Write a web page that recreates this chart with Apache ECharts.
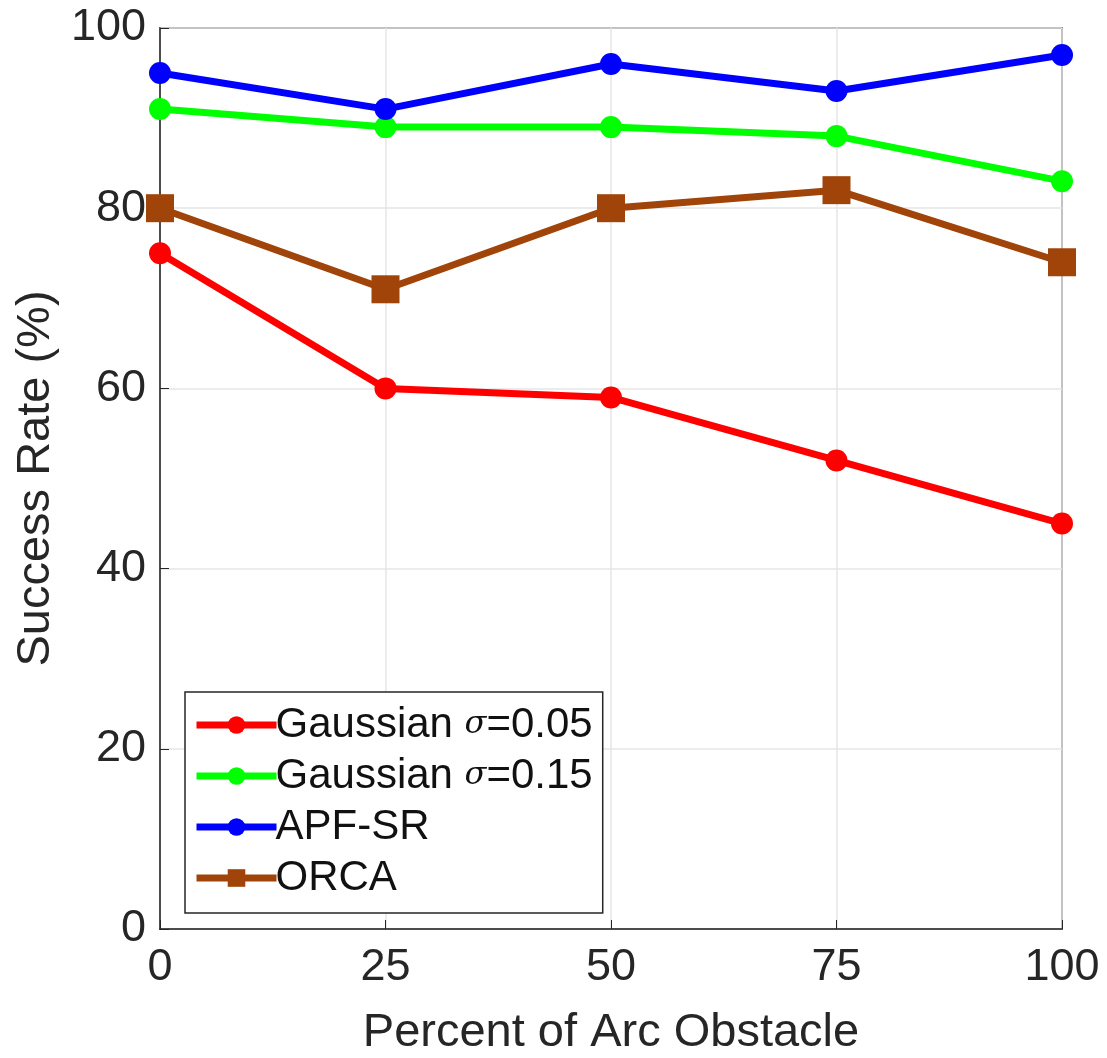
<!DOCTYPE html>
<html>
<head>
<meta charset="utf-8">
<script src="https://cdn.jsdelivr.net/npm/echarts@6/dist/echarts.min.js"></script>
<style>
  html, body { margin: 0; padding: 0; background: #fff; }
  #chart-container { width: 1107px; height: 1058px; }
</style>
</head>
<body>
<div id="chart-container"></div>
<script>
var dom = document.getElementById('chart-container');
var myChart = echarts.init(dom, null, { renderer: 'canvas' });

// percent of arc obstacle
const categories = [0, 25, 50, 75, 100];
const gauss005 = [75, 60, 59, 52, 45];
const gauss015 = [91, 89, 89, 88, 83];
const apfSr = [95, 91, 96, 93, 97];
const orca = [80, 71, 80, 82, 74];
const yTicks = [0, 20, 40, 60, 80, 100];

const font = 'Liberation Sans, Arial, sans-serif';

function mkSeries(name, data, color, symbol, size) {
    return {
        name: name,
        type: 'line',
        data: categories.map((c, i) => [c, data[i]]),
        symbol: symbol,
        symbolSize: size,
        lineStyle: { color: color, width: 7 },
        itemStyle: { color: color },
        z: 3
    };
}

var option = {
    animation: false,
    backgroundColor: '#fff',
    grid: {
        left: 160, right: 45, top: 28, bottom: 129,
        show: true, borderColor: '#262626', borderWidth: 1.5,
        containLabel: false,
        outerBoundsMode: 'none'
    },
    legend: {
        orient: 'vertical',
        left: 185, top: 692,
        padding: [12, 10, 14, 8],
        backgroundColor: '#fff',
        borderColor: '#262626',
        borderWidth: 1.5,
        itemWidth: 80, itemHeight: 22,
        itemGap: 9,
        lineStyle: { width: 7 },
        textStyle: {
            fontFamily: font, fontSize: 42, color: '#111',
            padding: [0, 0, 0, -6],
            rich: {
                i: { fontFamily: 'DejaVu Serif, serif', fontStyle: 'italic', fontSize: 32, color: '#111' }
            }
        },
        formatter: function (name) {
            var p = name.split('σ');
            if (p.length === 1) return name;
            return p[0] + '{i|σ}' + p[1];
        },
        data: ['Gaussian σ=0.05', 'Gaussian σ=0.15', 'APF-SR', 'ORCA']
    },
    xAxis: {
        type: 'value',
        min: 0, max: 100, interval: 25,
        name: 'Percent of Arc Obstacle',
        nameLocation: 'middle',
        nameGap: 81,
        nameTextStyle: { fontFamily: font, fontSize: 47, color: '#262626' },
        axisLine: { show: true, lineStyle: { color: '#262626', width: 1.5 } },
        axisTick: { show: true, inside: true, length: 9, lineStyle: { color: '#262626' } },
        axisLabel: { fontFamily: font, fontSize: 45, color: '#262626', margin: 16 },
        splitLine: { show: true, lineStyle: { color: '#e6e6e6', width: 1.5 } }
    },
    yAxis: {
        type: 'value',
        min: yTicks[0], max: yTicks[yTicks.length - 1], interval: 20,
        name: 'Success Rate (%)',
        nameLocation: 'middle',
        nameGap: 100,
        nameTextStyle: { fontFamily: font, fontSize: 47, color: '#262626' },
        axisLine: { show: true, lineStyle: { color: '#262626', width: 1.5 } },
        axisTick: { show: true, inside: true, length: 9, lineStyle: { color: '#262626' } },
        axisLabel: { fontFamily: font, fontSize: 45, color: '#262626', margin: 14 },
        splitLine: { show: true, lineStyle: { color: '#e6e6e6', width: 1.5 } }
    },
    series: [
        mkSeries('Gaussian σ=0.05', gauss005, '#ff0000', 'circle', 22),
        mkSeries('Gaussian σ=0.15', gauss015, '#00ff00', 'circle', 22),
        mkSeries('APF-SR', apfSr, '#0000ff', 'circle', 22),
        mkSeries('ORCA', orca, '#a0440a', 'rect', 28)
    ]
};

myChart.setOption(option);
window.addEventListener('resize', myChart.resize);
</script>
</body>
</html>
